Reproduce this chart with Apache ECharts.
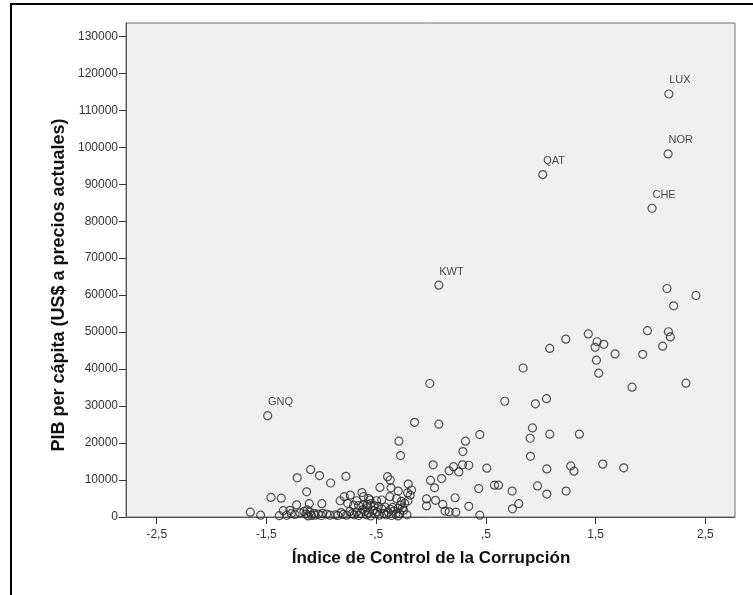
<!DOCTYPE html>
<html>
<head>
<meta charset="utf-8">
<script src="https://cdn.jsdelivr.net/npm/echarts@6/dist/echarts.min.js"></script>
<style>
html,body{margin:0;padding:0;background:#fff;}
#chart{width:753px;height:595px;}
</style>
</head>
<body>
<div id="chart"></div>
<script>
// Índice de Control de la Corrupción (x) and PIB per cápita (y), unlabelled countries
const ccIndex = [
  2.15, 2.414, 2.211, 1.433, 1.228, 1.972, 2.163, 2.181, 1.513, 1.574, 1.495, 1.082, 2.111, 1.677, 1.929, 1.507, 1.528, 0.839, 1.832, 2.323,
  -0.011, 0.672, 0.951, 1.052, -0.15, 0.071, 0.924, 0.903, 1.082, 1.352, 0.444, -0.293, -0.278, 0.314, 0.29, 0.906, 0.019, 0.287, 0.344, 0.205,
  0.165, 0.253, 0.508, 1.565, 1.273, 1.303, 1.756, 1.055, 0.096, -0.005, 0.032, 0.435, 0.578, 0.615, 0.97, 0.739, 1.231, 1.055, -0.041, 0.041,
  -0.041, 0.107, 0.219, 0.344, 0.128, 0.165, 0.226, 0.444, 0.742, 0.80,
  -1.097, -1.016, -1.22, -0.915, -0.776, -1.134, -1.459, -1.365, -1.647, -1.553,
  -1.225, -1.11, -0.995, -1.347, -1.286,
  -1.383, -1.316, -1.274, -1.24, -1.195, -1.158, -1.128, -1.104, -1.065, -1.028, -0.988, -0.952, -1.14, -1.09, -1.06, -1.12, -1.0, -0.92,
  -0.87, -0.85, -0.82, -0.8, -0.77, -0.74, -0.72, -0.7, -0.68, -0.66, -0.64, -0.62, -0.6, -0.59, -0.58, -0.57, -0.55, -0.53, -0.51, -0.49,
  -0.47, -0.45, -0.43, -0.41, -0.39, -0.37, -0.36, -0.34, -0.32, -0.3,
  -0.828, -0.791, -0.736, -0.76, -0.63, -0.615, -0.569, -0.496, -0.676, -0.706, -0.66, -0.62, -0.58, -0.55, -0.52, -0.48,
  -0.396, -0.372, -0.466, -0.365, -0.208, -0.178, -0.214, -0.299, -0.375, -0.314, -0.27, -0.24, -0.21, -0.28, -0.45, -0.557,
  -0.42, -0.35, -0.3, -0.25, -0.287, -0.22, -0.19, -0.26
];
const pibPerCapita = [
  61800, 59900, 57100, 49500, 48100, 50400, 50100, 48700, 47400, 46700, 45900, 45600, 46200, 44100, 44000, 42400, 38900, 40300, 35100, 36200,
  36100, 31300, 30600, 32000, 25600, 25100, 24100, 21300, 22400, 22400, 22300, 20500, 16600, 20500, 17700, 16400, 14100, 14100, 14000, 13600,
  12500, 12200, 13200, 14300, 13800, 12400, 13300, 13000, 10400, 9900, 7900, 7700, 8600, 8600, 8400, 7000, 7000, 6200, 4900, 4500,
  3000, 3400, 5200, 2900, 1600, 1400, 1300, 500, 2200, 3600,
  12800, 11200, 10600, 9200, 11000, 6800, 5300, 5100, 1300, 500,
  3300, 3600, 3600, 1700, 1800,
  350, 450, 900, 700, 1100, 1500, 1900, 1300, 1000, 800, 1000, 800, 800, 400, 500, 300, 400, 500,
  600, 400, 1200, 700, 500, 1500, 900, 600, 1300, 400, 1000, 2000, 1500, 600, 2500, 1100, 300, 1800, 900, 1400,
  500, 2200, 1000, 600, 1300, 2100, 400, 1600, 800, 300,
  4400, 5500, 5900, 3700, 6600, 5500, 5000, 4400, 4400, 3200, 3100, 3200, 3400, 3600, 3100, 2900,
  10900, 10000, 8000, 7900, 8900, 7300, 6500, 7000, 5500, 5000, 4200, 3700, 4400, 3200, 4600, 4600,
  2700, 2600, 2300, 1800, 900, 600, 5900, 2500
];
// Labelled countries
const labelCodes = ['GNQ', 'KWT', 'QAT', 'CHE', 'NOR', 'LUX'];
const labelX = [-1.489, 0.071, 1.018, 2.014, 2.16, 2.167];
const labelY = [27400, 62700, 92600, 83500, 98200, 114400];
// Axis ticks and titles
const xTickValues = [-2.5, -1.5, -0.5, 0.5, 1.5, 2.5];
const xTickLabels = ['-2,5', '-1,5', '-,5', ',5', '1,5', '2,5'];
const yTickValues = [0, 10000, 20000, 30000, 40000, 50000, 60000, 70000, 80000, 90000, 100000, 110000, 120000, 130000];
const xTitle = 'Índice de Control de la Corrupción';
const yTitle = 'PIB per cápita (US$ a precios actuales)';

const plainData = ccIndex.map((x, i) => [x, pibPerCapita[i]]);
const labelData = labelX.map((x, i) => [x, labelY[i]]);

const chart = echarts.init(document.getElementById('chart'), null, {renderer: 'canvas'});
const font = 'Liberation Sans, Arial, sans-serif';
const markerStyle = {color: 'rgba(0,0,0,0)', borderColor: '#2a2a2a', borderWidth: 1.2};

chart.setOption({
  animation: false,
  backgroundColor: '#ffffff',
  grid: {
    left: 126, top: 23, width: 609, height: 494,
    show: true, backgroundColor: '#f0f0f0', borderColor: '#707070', borderWidth: 1
  },
  xAxis: {
    type: 'value', min: -2.78, max: 2.77,
    axisLine: {show: true, onZero: false, lineStyle: {color: '#555', width: 1}},
    axisTick: {show: true, length: 7, customValues: xTickValues, lineStyle: {color: '#333'}},
    axisLabel: {
      customValues: xTickValues, margin: 12,
      fontFamily: font, fontSize: 12, color: '#333',
      formatter: v => { const i = xTickValues.findIndex(t => Math.abs(t - v) < 1e-6); return i >= 0 ? xTickLabels[i] : ''; }
    },
    splitLine: {show: false}
  },
  yAxis: {
    type: 'value', min: 0, max: 133600,
    axisLine: {show: true, onZero: false, lineStyle: {color: '#555', width: 1}},
    axisTick: {show: true, length: 7, customValues: yTickValues, lineStyle: {color: '#333'}},
    axisLabel: {
      customValues: yTickValues, margin: 8,
      fontFamily: font, fontSize: 12, color: '#333',
      formatter: v => String(Math.round(v))
    },
    splitLine: {show: false}
  },
  graphic: [
    {
      type: 'rect', silent: true, z: 100,
      shape: {x: 11, y: 4, width: 900, height: 800},
      style: {fill: 'none', stroke: '#000', lineWidth: 2}
    },
    {
      type: 'text', silent: true, x: 431, y: 558,
      style: {text: xTitle, align: 'center', verticalAlign: 'middle',
               font: 'bold 17px Liberation Sans, Arial, sans-serif', fill: '#111'}
    },
    {
      type: 'text', silent: true, x: 59, y: 285, rotation: Math.PI / 2,
      style: {text: yTitle, align: 'center', verticalAlign: 'middle',
               font: 'bold 18px Liberation Sans, Arial, sans-serif', fill: '#111'}
    }
  ],
  series: [
    {
      type: 'scatter', symbol: 'circle', symbolSize: 8,
      data: plainData, itemStyle: markerStyle, emphasis: {disabled: true}
    },
    {
      type: 'scatter', symbol: 'circle', symbolSize: 8,
      data: labelData, itemStyle: markerStyle, emphasis: {disabled: true},
      label: {
        show: true, position: [5, -9], align: 'left', verticalAlign: 'middle',
        fontFamily: font, fontSize: 11, color: '#222',
        formatter: p => labelCodes[p.dataIndex]
      }
    }
  ]
});
</script>
</body>
</html>
